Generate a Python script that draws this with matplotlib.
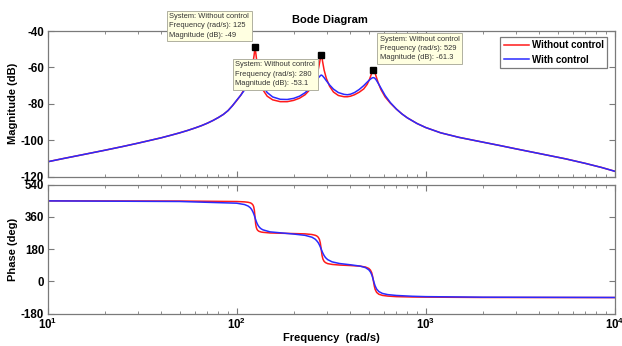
import matplotlib
matplotlib.use('Agg')
from matplotlib import pyplot as plt
from matplotlib.ticker import NullFormatter

plt.rcParams['font.family'] = ['Liberation Sans', 'DejaVu Sans']
plt.rcParams['mathtext.fontset'] = 'custom'
plt.rcParams['mathtext.rm'] = 'Liberation Sans'
plt.rcParams['mathtext.bf'] = 'Liberation Sans:bold'

# magnitude (dB)
freq_mag = [10, 12, 15, 20, 25, 30, 35, 40, 45, 50,
            55, 60, 65, 70, 75, 80, 85, 90, 95, 100,
            105, 110, 115, 118, 120, 122, 123.5, 125, 126.5, 128,
            130, 133, 138, 145, 155, 170, 185, 200, 215, 230,
            245, 255, 263, 270, 275, 278, 280, 282, 285, 290,
            298, 310, 325, 345, 370, 385, 400, 420, 445, 470,
            490, 505, 515, 522, 529, 536, 545, 560, 580, 610,
            650, 700, 750, 800, 900, 1000, 1200, 1500, 2000, 2500,
            3000, 4000, 5500, 7000, 8500, 10000]
mag_without = [-111.8, -110.1, -108.1, -105.5, -103.4, -101.6, -100.0, -98.6, -97.2, -95.9,
               -94.6, -93.3, -92.0, -90.6, -89.1, -87.5, -85.8, -83.7, -81.0, -78.2,
               -75.3, -71.8, -67.6, -64.2, -61.2, -57.3, -53.6, -49.0, -53.0, -57.5,
               -62.5, -67.8, -72.5, -75.8, -77.8, -78.8, -78.8, -78.1, -76.9, -75.0,
               -72.0, -68.8, -65.5, -61.3, -57.0, -54.1, -53.1, -54.1, -57.0, -61.4,
               -66.0, -70.3, -73.5, -75.4, -76.1, -76.1, -75.8, -75.0, -73.6, -71.8,
               -69.3, -66.4, -63.9, -62.2, -61.3, -62.2, -64.5, -68.3, -72.2, -76.2,
               -79.6, -82.9, -85.6, -87.7, -90.8, -93.0, -95.9, -98.4, -101.0, -103.0,
               -104.7, -107.3, -110.2, -112.7, -114.9, -117.0]
mag_with = [-111.8, -110.1, -108.1, -105.5, -103.4, -101.6, -100.0, -98.6, -97.2, -95.9,
            -94.6, -93.3, -92.0, -90.6, -89.1, -87.5, -85.8, -83.7, -81.0, -78.0,
            -75.3, -72.4, -69.0, -66.6, -64.9, -63.2, -62.0, -61.2, -61.6, -62.6,
            -64.3, -67.0, -70.5, -73.8, -76.2, -77.5, -77.6, -77.0, -75.8, -73.9,
            -71.3, -69.2, -67.3, -65.8, -64.9, -64.4, -64.2, -64.3, -64.7, -65.6,
            -67.3, -69.6, -71.9, -73.8, -74.8, -75.0, -74.7, -73.8, -72.1, -70.0,
            -68.1, -66.8, -66.1, -65.7, -65.6, -65.8, -66.6, -68.6, -71.4, -75.4,
            -79.3, -82.9, -85.6, -87.7, -90.8, -93.0, -95.9, -98.4, -101.0, -103.0,
            -104.7, -107.3, -110.2, -112.7, -114.9, -117.0]

# phase (deg)
freq_ph = [10, 50, 100, 110, 115, 118, 120, 122, 123, 124,
           125, 126, 127, 128, 129, 130, 131, 133, 135, 138,
           150, 200, 230, 250, 260, 265, 270, 274, 277, 280,
           283, 286, 290, 295, 303, 320, 350, 400, 450, 480,
           500, 510, 518, 524, 529, 534, 540, 550, 565, 590,
           630, 700, 850, 1000, 2000, 10000]
ph_without = [449.8, 448.8, 446.1, 444.2, 441.8, 438.8, 434.8, 426.2, 416.8, 397.5,
              358.6, 320.0, 300.8, 291.5, 285.9, 282.9, 280.2, 277.7, 275.6, 274.2,
              270.7, 267.2, 265.5, 262.0, 257.8, 254.2, 246.8, 234.5, 214.7, 179.2,
              143.6, 124.4, 112.3, 105.1, 99.5, 95.0, 91.6, 88.8, 85.3, 80.5,
              72.6, 63.3, 48.7, 27.3, 1.9, -23.4, -44.2, -61.0, -71.4, -77.8,
              -81.7, -84.8, -86.8, -87.5, -89.4, -89.9]
ph_with = [449.6, 446.3, 436.8, 429.2, 420.7, 411.5, 401.7, 387.2, 378.0, 367.4,
           356.0, 344.7, 334.3, 325.3, 317.7, 311.5, 306.3, 298.6, 293.0, 287.7,
           276.8, 264.6, 257.3, 247.0, 236.3, 227.3, 216.4, 203.6, 192.3, 180.1,
           167.9, 157.0, 144.7, 133.2, 121.7, 109.2, 100.1, 93.0, 85.6, 77.2,
           64.9, 52.8, 37.8, 21.6, 6.2, -9.0, -24.6, -42.4, -56.4, -66.8,
           -73.5, -78.2, -82.7, -84.8, -87.8, -89.5]

# data tips on the uncontrolled curve
tip_freq = [125, 280, 529]
tip_mag = [-49, -53.1, -61.3]
tip_pos = [(166.7, 10.7), (232.7, 59.0), (377.0, 33.3)]  # box top-left, pixels

W, H = 622, 346
fig = plt.figure(figsize=(W / 100, H / 100), dpi=100)
ax1 = fig.add_axes([47.7 / W, 1 - 176.7 / H, 567 / W, 145.7 / H])
ax2 = fig.add_axes([47.7 / W, 1 - 313.7 / H, 567 / W, 129 / H])

red = '#ff1a1a'
blue = '#2a2aff'
grey = '#7a7a7a'

ax1.plot(freq_mag, mag_without, color=red, lw=1.1, label='Without control')
ax1.plot(freq_mag, mag_with, color=blue, lw=1.1, label='With control')
ax1.plot(tip_freq, tip_mag, 's', color='black', ms=4, clip_on=False, zorder=5)
ax2.plot(freq_ph, ph_without, color=red, lw=1.1)
ax2.plot(freq_ph, ph_with, color=blue, lw=1.1)

for ax in (ax1, ax2):
    ax.set_xscale('log')
    ax.set_xlim(10, 1e4)
    ax.tick_params(which='both', direction='in', top=True, right=True, color=grey,
                   labelsize=8.3, pad=2.5)
    ax.tick_params(which='major', length=4)
    ax.tick_params(which='minor', length=2.5)
    ax.xaxis.set_minor_formatter(NullFormatter())
    for s in ax.spines.values():
        s.set_color(grey)
        s.set_linewidth(0.9)

ax1.set_ylim(-120, -40)
ax1.set_yticks([-120, -100, -80, -60, -40], labels=['-120', '-100', '-80', '-60', '-40'],
               fontweight='bold')
ax1.set_xticks([10, 100, 1000, 10000], labels=[])
ax2.set_ylim(-180, 540)
ax2.set_yticks([-180, 0, 180, 360, 540], labels=['-180', '0', '180', '360', '540'],
               fontweight='bold')
ax2.set_xticks([10, 100, 1000, 10000],
               labels=[r'$\mathbf{10^{1}}$', r'$\mathbf{10^{2}}$', r'$\mathbf{10^{3}}$',
                       r'$\mathbf{10^{4}}$'])

ax1.set_ylabel('Magnitude (dB)', fontsize=8, fontweight='bold')
ax1.yaxis.set_label_coords(-0.052, 0.5)
ax2.set_ylabel('Phase (deg)', fontsize=8, fontweight='bold')
ax2.yaxis.set_label_coords(-0.052, 0.5)
fig.text(331 / W, 1 - 338 / H, 'Frequency  (rad/s)', fontsize=8, fontweight='bold',
         ha='center', va='center')
fig.text(330 / W, 1 - 20 / H, 'Bode Diagram', fontsize=8, fontweight='bold',
         ha='center', va='center')

leg = ax1.legend(loc='upper right', bbox_to_anchor=(0.9866, 0.9588), borderaxespad=0,
                 prop={'weight': 'bold', 'size': 7}, handlelength=2.6, handletextpad=0.3,
                 labelspacing=0.45, borderpad=0.35, fancybox=False, framealpha=1)
leg.get_frame().set_edgecolor(grey)
leg.get_frame().set_linewidth(0.9)

for f, m, (px, py) in zip(tip_freq, tip_mag, tip_pos):
    txt = f'System: Without control\nFrequency (rad/s): {f}\nMagnitude (dB): {m:g}'
    fig.text((px + 2.5) / W, 1 - (py + 2.5) / H, txt, fontsize=5.4, color='#333333',
             ha='left', va='top', linespacing=1.45, zorder=6,
             bbox=dict(boxstyle='square,pad=0.35', fc='#ffffe1', ec='#b0b0a0', lw=0.7))

fig.savefig('out.png', dpi=100)
